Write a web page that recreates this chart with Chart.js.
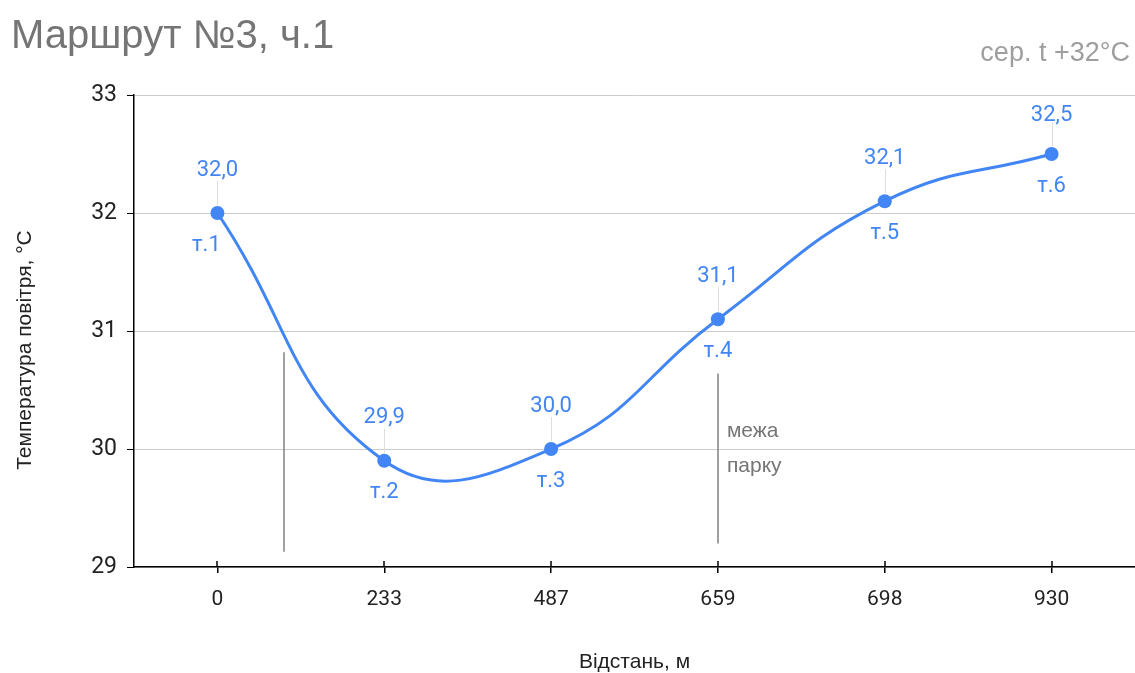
<!DOCTYPE html>
<html>
<head>
<meta charset="utf-8">
<script src="https://cdn.jsdelivr.net/npm/chart.js@4/dist/chart.umd.min.js"></script>
<style>
  html, body { margin: 0; padding: 0; background: #fff; overflow: hidden; }
  #wrap { width: 1135px; height: 673px; position: relative; }
  #grafico { display: block; }
</style>
</head>
<body>
<div id="wrap"><canvas id="grafico"></canvas></div>
<script>
// дані маршруту
const distances = ['0', '233', '487', '659', '698', '930'];
const temperatures = [32.0, 29.9, 30.0, 31.1, 32.1, 32.5];
const pointNames = ['т.1', 'т.2', 'т.3', 'т.4', 'т.5', 'т.6'];
const yMin = 29;
const yMax = 33;
// вертикальні позначки: індекс по осі x та межі по температурі
const markerAt = [0.4, 3];
const markerFrom = [29.13, 29.2];
const markerTo = [30.82, 30.64];

const azul = '#4285F4';
const fonteNum = 'Roboto, sans-serif';
const fonteTxt = '"Liberation Sans", Arial, sans-serif';

function fmt(v) {
  return v.toFixed(1).replace('.', ',');
}

const extras = {
  id: 'extras',
  beforeDatasetsDraw(chart) {
    const ctx = chart.ctx;
    const x = chart.scales.x;
    const y = chart.scales.y;
    const meta = chart.getDatasetMeta(0);
    ctx.save();
    // позначки меж
    ctx.strokeStyle = '#808080';
    ctx.lineWidth = 1.5;
    markerAt.forEach((m, i) => {
      const px = Math.round(x.getPixelForValue(m));
      ctx.beginPath();
      ctx.moveTo(px, y.getPixelForValue(markerFrom[i]));
      ctx.lineTo(px, y.getPixelForValue(markerTo[i]));
      ctx.stroke();
    });
    // тонкі лінії від точки до підпису
    ctx.strokeStyle = '#dddddd';
    ctx.lineWidth = 1;
    meta.data.forEach((p) => {
      ctx.beginPath();
      ctx.moveTo(Math.round(p.x) + 0.5, p.y - 8);
      ctx.lineTo(Math.round(p.x) + 0.5, p.y - 32);
      ctx.stroke();
    });
    // риски на осі x всередину
    ctx.strokeStyle = '#000';
    ctx.lineWidth = 1.5;
    distances.forEach((d, i) => {
      const px = Math.round(x.getPixelForValue(i));
      ctx.beginPath();
      ctx.moveTo(px, y.bottom);
      ctx.lineTo(px, y.bottom - 6);
      ctx.stroke();
    });
    ctx.restore();
  },
  afterDatasetsDraw(chart) {
    const ctx = chart.ctx;
    const meta = chart.getDatasetMeta(0);
    const x = chart.scales.x;
    const y = chart.scales.y;
    ctx.save();
    ctx.textAlign = 'center';
    ctx.textBaseline = 'middle';
    ctx.fillStyle = azul;
    ctx.font = '22px ' + fonteNum;
    meta.data.forEach((p, i) => {
      const up = i === meta.data.length - 1 ? 39 : 43;
      ctx.fillText(fmt(temperatures[i]), p.x, p.y - up);
      const dx = i === 0 ? -11 : 0;
      ctx.fillText(pointNames[i], p.x + dx, p.y + 32);
    });

    // підпис межі парку
    ctx.fillStyle = '#757575';
    ctx.font = '21px ' + fonteTxt;
    ctx.textAlign = 'left';
    const mx = x.getPixelForValue(markerAt[1]) + 9;
    ctx.fillText('межа', mx, 431);
    ctx.fillText('парку', mx, 466);

    // заголовки
    ctx.textBaseline = 'alphabetic';
    ctx.font = '40px ' + fonteTxt;
    ctx.fillStyle = '#757575';
    ctx.fillText('Маршрут №3, ч.1', 11, 48);
    ctx.font = '27px ' + fonteTxt;
    ctx.fillStyle = '#9e9e9e';
    ctx.textAlign = 'right';
    ctx.fillText('сер. t +32°C', 1130, 61);

    // назви осей
    ctx.fillStyle = '#222';
    ctx.font = '21px ' + fonteTxt;
    ctx.textAlign = 'center';
    ctx.textBaseline = 'middle';
    ctx.fillText('Відстань, м', (x.left + x.right) / 2, 662);
    ctx.translate(25, 350);
    ctx.rotate(-Math.PI / 2);
    ctx.fillText('Температура повітря, °С', 0, 0);
    ctx.restore();
  }
};

const ctx = document.getElementById('grafico');
new Chart(ctx, {
  type: 'line',
  data: {
    labels: distances,
    datasets: [{
      data: temperatures,
      borderColor: azul,
      backgroundColor: azul,
      borderWidth: 3,
      pointRadius: 7,
      pointHoverRadius: 7,
      pointBackgroundColor: azul,
      pointBorderWidth: 0,
      tension: 0.45
    }]
  },
  options: {
    responsive: true,
    maintainAspectRatio: false,
    animation: false,
    events: [],
    layout: { autoPadding: false, padding: { top: 95, right: 0, left: 0, bottom: 0 } },
    scales: {
      y: {
        min: yMin,
        max: yMax,
        afterFit(scale) {
          scale.width = 134;
        },
        border: { color: '#000', width: 1.5 },
        grid: { color: '#cccccc', tickColor: '#000', tickLength: 7, lineWidth: 1 },
        ticks: {
          stepSize: 1,
          padding: 10,
          color: '#222',
          font: { family: fonteNum, size: 23 }
        }
      },
      x: {
        offset: true,
        afterFit(scale) {
          scale.height = 106;
        },
        border: { color: '#000', width: 1.5 },
        grid: { drawOnChartArea: false, offset: false, tickColor: '#000', tickLength: 6, lineWidth: 1.5 },
        ticks: {
          padding: 14,
          color: '#222',
          maxRotation: 0,
          font: { family: fonteNum, size: 21 }
        }
      }
    },
    plugins: {
      legend: { display: false },
      tooltip: { enabled: false }
    }
  },
  plugins: [extras]
});
</script>
</body>
</html>
